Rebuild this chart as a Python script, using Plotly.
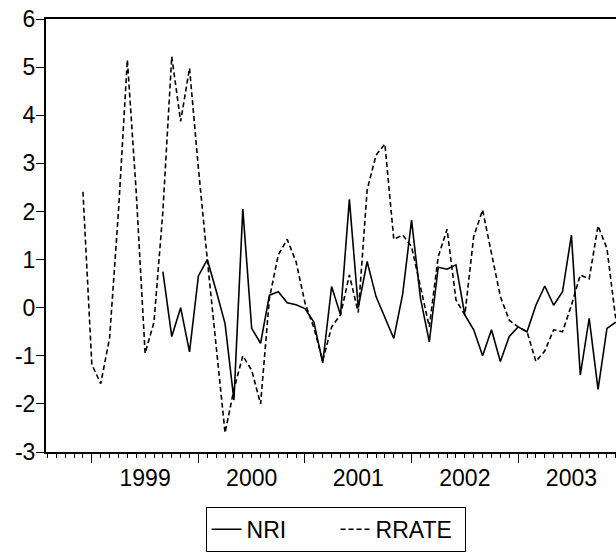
import plotly.graph_objects as go

# Monthly sample 1998M08 .. 2003M12
start_year, start_month = 1998, 8
n_obs = 65
dates = []
y, m = start_year, start_month
for _ in range(n_obs):
    dates.append((y, m))
    m += 1
    if m > 12:
        m = 1
        y += 1
# position in months relative to 1999M01
xpos = [(yy - 1999) * 12 + (mm - 1) for yy, mm in dates]

nri = [None] * 13 + [
    0.75, -0.60, 0.00, -0.92, 0.66, 1.00, 0.35, -0.33, -1.92, 2.05,
    -0.43, -0.74, 0.26, 0.33, 0.10, 0.06, -0.02, -0.30, -1.15, 0.44,
    -0.15, 2.25, 0.00, 0.96, 0.23, -0.20, -0.64, 0.28, 1.82, 0.20,
    -0.71, 0.84, 0.80, 0.89, -0.15, -0.46, -1.00, -0.46, -1.12, -0.60,
    -0.40, -0.50, 0.05, 0.45, 0.05, 0.33, 1.51, -1.40, -0.22, -1.70,
    -0.43, -0.30,
]

rrate = [None] * 4 + [
    2.41, -1.18, -1.58, -0.63, 2.00, 5.15, 2.40, -0.95, -0.30, 2.00,
    5.22, 3.87, 4.98, 2.90, 1.00, -0.85, -2.60, -1.70, -1.00, -1.30,
    -2.00, 0.20, 1.10, 1.42, 0.95, 0.10, -0.42, -1.10, -0.40, -0.15,
    0.68, -0.10, 2.45, 3.17, 3.40, 1.42, 1.51, 1.27, 0.40, -0.40,
    1.06, 1.63, 0.16, -0.15, 1.48, 2.03, 1.13, 0.23, -0.26, -0.40,
    -0.50, -1.12, -0.90, -0.46, -0.50, 0.05, 0.68, 0.60, 1.70, 1.23,
    -0.25,
]

year_labels = ["1999", "2000", "2001", "2002", "2003"]
year_starts = [0, 12, 24, 36, 48]
year_mids = [6, 18, 30, 42, 54]
y_ticks = [-3, -2, -1, 0, 1, 2, 3, 4, 5, 6]
y_tick_text = ["-3", "-2", "-1", "0", "1", "2", "3", "4", "5", "6"]

FONT = "Liberation Sans, Arial, sans-serif"
xr = [-5.16, 59.02]

fig = go.Figure()
fig.add_trace(go.Scatter(x=xpos, y=nri, mode="lines", name="NRI",
                         line=dict(color="black", width=1.6)))
fig.add_trace(go.Scatter(x=xpos, y=rrate, mode="lines", name="RRATE",
                         xaxis="x2", yaxis="y",
                         line=dict(color="black", width=1.6, dash="5px,3px")))

fig.update_layout(
    width=616, height=554,
    margin=dict(l=46, r=0, t=19, b=102, autoexpand=False),
    paper_bgcolor="white", plot_bgcolor="white",
    font=dict(family=FONT, size=23, color="black"),
    showlegend=True,
    legend=dict(orientation="h", x=0.508, xanchor="center",
                yref="container", y=0.004, yanchor="bottom",
                bordercolor="black", borderwidth=1, font=dict(size=23),
                bgcolor="white", entrywidth=84, entrywidthmode="pixels"),
    xaxis=dict(range=xr, tickmode="array", tickvals=year_starts, showticklabels=False,
               ticks="outside", ticklen=9, tickwidth=1, tickcolor="black",
               showline=True, linecolor="black", linewidth=2, mirror=True,
               showgrid=False, zeroline=False, automargin=False,
               minor=dict(tickmode="linear", tick0=0, dtick=1, ticks="outside",
                          ticklen=4, tickwidth=1, tickcolor="black", showgrid=False)),
    xaxis2=dict(range=xr, overlaying="x", anchor="y", side="bottom",
                tickmode="array", tickvals=year_mids, ticktext=year_labels,
                ticks="outside", ticklen=5, tickcolor="rgba(0,0,0,0)",
                showline=False, showgrid=False, zeroline=False, automargin=False,
                tickfont=dict(size=23)),
    yaxis=dict(range=[-3, 6], tickmode="array", tickvals=y_ticks, ticktext=y_tick_text,
               ticks="outside", ticklen=8, tickwidth=1, tickcolor="black",
               ticklabelstandoff=-4,
               showline=True, linecolor="black", linewidth=2, automargin=False,
               showgrid=False, zeroline=False, tickfont=dict(size=23)),
)

fig.write_html("out.html", config={"displayModeBar": False},
               post_script="document.body.style.margin='0px';")
